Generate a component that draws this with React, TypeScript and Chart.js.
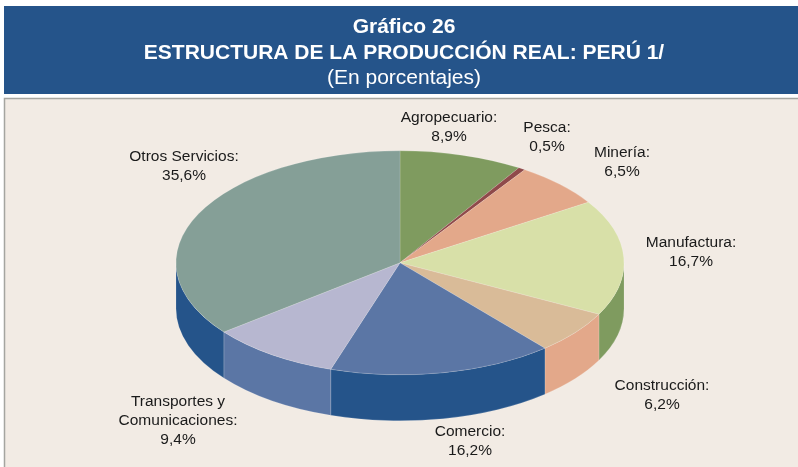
import React, { useEffect, useRef } from "react";
import { Chart, registerables } from "chart.js";

Chart.register(...registerables);

const categories = ["Agropecuario", "Pesca", "Minería", "Manufactura", "Construcción", "Comercio", "Transportes y Comunicaciones", "Otros Servicios"];
const shares = [8.9, 0.5, 6.5, 16.7, 6.2, 16.2, 9.4, 35.6];
const topColors = ["#7F9B5F", "#8F4A4A", "#E3A88A", "#D8E0A8", "#D9BB98", "#5B76A5", "#B7B7D0", "#859F97"];
const wallColors = ["#7F9B5F", "#8F4A4A", "#E3A88A", "#7F9B5F", "#E3A88A", "#25548A", "#5B76A5", "#25548A"];
const titleLines = ["Gráfico 26", "ESTRUCTURA DE LA PRODUCCIÓN REAL: PERÚ 1/"];
const subtitleLine = "(En porcentajes)";
const labelLines = [
  ["Agropecuario:", "8,9%"],
  ["Pesca:", "0,5%"],
  ["Minería:", "6,5%"],
  ["Manufactura:", "16,7%"],
  ["Construcción:", "6,2%"],
  ["Comercio:", "16,2%"],
  ["Transportes y", "Comunicaciones:", "9,4%"],
  ["Otros Servicios:", "35,6%"],
];

const labelAnchors = [
  [449, 118], [547, 128], [622, 153], [691, 243], [662, 386], [470, 432], [178, 402], [184, 157],
];
const SQUASH = 0.5;
const RADIUS = 224;
const DEPTH = 46;
const TITLE_SHIFT = 4;
const LABEL_FONT = "15.5px 'Liberation Sans', Arial, sans-serif";

const pie3d = {
  id: "pie3d",
  afterLayout(chart: any) {
    chart.boxes
      .filter((b: any) => b.position === "top")
      .forEach((b: any) => {
        b.left += TITLE_SHIFT;
        b.right += TITLE_SHIFT;
      });
  },
  beforeDraw(chart: any) {
    const { ctx, width, height } = chart;
    ctx.save();
    ctx.fillStyle = "#FFFFFF";
    ctx.fillRect(0, 0, width, height);
    ctx.fillStyle = "#25548A";
    ctx.fillRect(4, 6, width - 4, 88);
    ctx.fillStyle = "#F2EBE4";
    ctx.fillRect(4, 98, width - 4, height - 98);
    ctx.strokeStyle = "#A5A5A0";
    ctx.lineWidth = 1.5;
    ctx.beginPath();
    ctx.moveTo(4.5, height);
    ctx.lineTo(4.5, 98.5);
    ctx.lineTo(width, 98.5);
    ctx.stroke();
    ctx.restore();
  },
  beforeDatasetsDraw(chart: any) {
    const { ctx } = chart;
    const arcs = chart.getDatasetMeta(0).data;
    const cx = arcs[0].x;
    const cy = arcs[0].y;
    const twoPi = Math.PI * 2;
    ctx.save();
    arcs.forEach((arc: any, i: number) => {
      let a0 = arc.startAngle;
      let a1 = arc.endAngle;
      while (a0 < 0) { a0 += twoPi; a1 += twoPi; }
      const segs = [[a0, a1], [a0 - twoPi, a1 - twoPi]];
      segs.forEach(([s, e]) => {
        const from = Math.max(s, 0);
        const to = Math.min(e, Math.PI);
        if (to <= from) return;
        ctx.beginPath();
        ctx.ellipse(cx, cy, RADIUS, RADIUS * SQUASH, 0, from, to);
        ctx.ellipse(cx, cy + DEPTH, RADIUS, RADIUS * SQUASH, 0, to, from, true);
        ctx.closePath();
        ctx.fillStyle = wallColors[i];
        ctx.fill();
        ctx.strokeStyle = "rgba(255,255,255,0.25)";
        ctx.lineWidth = 0.6;
        ctx.stroke();
      });
    });
    ctx.restore();
    ctx.save();
    ctx.translate(cx, cy);
    ctx.scale(1, SQUASH);
    ctx.translate(-cx, -cy);
  },
  afterDatasetsDraw(chart: any) {
    const { ctx } = chart;
    ctx.restore();
    ctx.save();
    ctx.font = LABEL_FONT;
    ctx.fillStyle = "#1A1A1A";
    ctx.textAlign = "center";
    ctx.textBaseline = "middle";
    labelLines.forEach((lines, i) => {
      lines.forEach((line, j) => {
        ctx.fillText(line, labelAnchors[i][0], labelAnchors[i][1] + j * 19);
      });
    });
    ctx.restore();
  },
};

export default function App() {
  const ref = useRef<HTMLCanvasElement>(null);
  useEffect(() => {
    const chart = new Chart(ref.current!, {
      type: "doughnut",
      data: {
        labels: categories,
        datasets: [
          {
            data: shares,
            backgroundColor: topColors,
            borderColor: "rgba(255,255,255,0.3)",
            borderWidth: 0.7,
            clip: false,
          } as any,
        ],
      },
      options: {
        responsive: false,
        animation: false,
        cutout: 0,
        radius: RADIUS,
        layout: { padding: { top: 0, bottom: 32, left: 2, right: 0 } },
        plugins: {
          legend: { display: false },
          tooltip: { enabled: false },
          title: {
            display: true,
            text: titleLines,
            color: "#FFFFFF",
            font: { family: "'Liberation Sans', Arial, sans-serif", size: 21, weight: "bold", lineHeight: 1.2 },
            padding: { top: 15, bottom: 0 },
          },
          subtitle: {
            display: true,
            text: subtitleLine,
            color: "#FFFFFF",
            font: { family: "'Liberation Sans', Arial, sans-serif", size: 21, weight: "normal", lineHeight: 1.2 },
            padding: { top: 0, bottom: 0 },
          },
        },
      },
      plugins: [pie3d],
    } as any);
    return () => chart.destroy();
  }, []);
  return (
    <div style={{ position: "fixed", left: 0, top: 0, width: 798, height: 467 }}>
      <canvas ref={ref} width={798} height={467} style={{ display: "block" }} />
    </div>
  );
}
